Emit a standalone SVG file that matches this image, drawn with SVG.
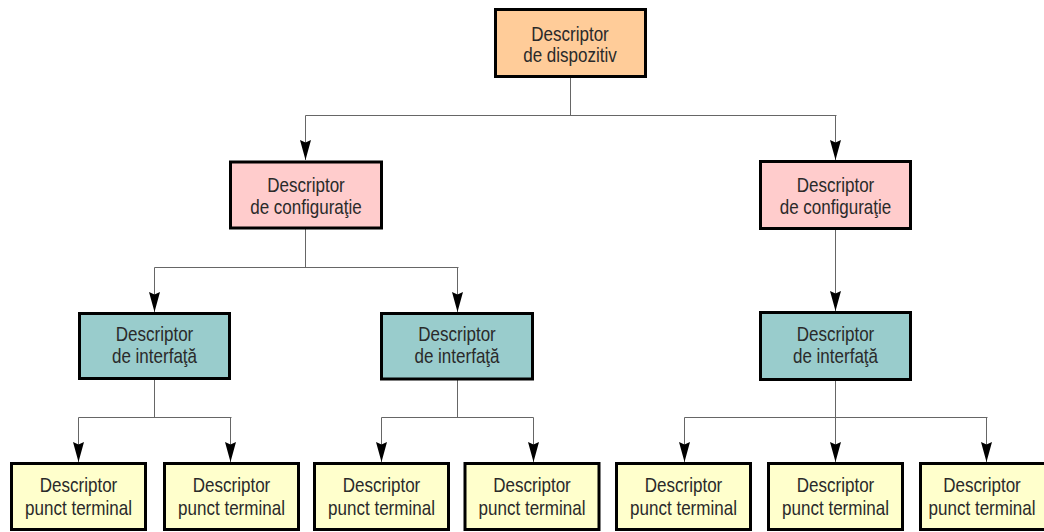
<svg xmlns="http://www.w3.org/2000/svg" width="1044" height="532" viewBox="0 0 1044 532">
<style>
.box{stroke:#000;stroke-width:3}
.dev{fill:#FFCC99}
.cfg{fill:#FFCCCC}
.ifc{fill:#99CCCC}
.ep{fill:#FFFFCC}
text{font-family:"Liberation Sans",Arial,sans-serif;font-size:20.5px;fill:#2a2a2a;text-anchor:middle}
.c{fill:none;stroke:#666;stroke-width:1}
</style>
<defs>
<marker id="ah" markerUnits="userSpaceOnUse" markerWidth="22" markerHeight="12" refX="20" refY="6" orient="auto" viewBox="0 0 22 12">
<path d="M0,0.5 L20,6 L0,11.5 L2.5,6 z" fill="#000"/>
</marker>
</defs>
<rect width="1044" height="532" fill="#fff"/>
<g id="connectors">
<path class="c" d="M570.5,78 V115.5 M305.5,115.5 H836.5"/>
<path class="c" d="M305.5,115.5 V160" marker-end="url(#ah)"/>
<path class="c" d="M835.5,115.5 V160" marker-end="url(#ah)"/>
<path class="c" d="M305.5,229 V267.5 M154.5,267.5 H458.5"/>
<path class="c" d="M154.5,267.5 V312" marker-end="url(#ah)"/>
<path class="c" d="M457.5,267.5 V312" marker-end="url(#ah)"/>
<path class="c" d="M835.5,230 V311" marker-end="url(#ah)"/>
<path class="c" d="M154.5,380 V417.5 M78.5,417.5 H231.5"/>
<path class="c" d="M78.5,417.5 V462" marker-end="url(#ah)"/>
<path class="c" d="M230.5,417.5 V462" marker-end="url(#ah)"/>
<path class="c" d="M457.5,380 V417.5 M381.5,417.5 H533.5"/>
<path class="c" d="M381.5,417.5 V462" marker-end="url(#ah)"/>
<path class="c" d="M533.5,417.5 V462" marker-end="url(#ah)"/>
<path class="c" d="M835.5,381 V417.5 M684.5,417.5 H987.5"/>
<path class="c" d="M684.5,417.5 V462" marker-end="url(#ah)"/>
<path class="c" d="M835.5,417.5 V462" marker-end="url(#ah)"/>
<path class="c" d="M986.5,417.5 V462" marker-end="url(#ah)"/>
</g>
<g id="dev">
<rect class="box dev" x="495.5" y="9.5" width="150" height="67"/>
<text transform="translate(570,40.5) scale(0.83,1)">Descriptor</text>
<text transform="translate(570,62) scale(0.83,1)">de dispozitiv</text>
</g>
<g id="cfg1">
<rect class="box cfg" x="230.5" y="162" width="151" height="66"/>
<text transform="translate(306,192) scale(0.83,1)">Descriptor</text>
<text transform="translate(306,213.5) scale(0.83,1)">de configuraţie</text>
</g>
<g id="cfg2">
<rect class="box cfg" x="760.5" y="161.5" width="150" height="67"/>
<text transform="translate(835.5,192) scale(0.83,1)">Descriptor</text>
<text transform="translate(835.5,213.5) scale(0.83,1)">de configuraţie</text>
</g>
<g id="ifc1">
<rect class="box ifc" x="79.5" y="313.5" width="150" height="65"/>
<text transform="translate(154.5,341) scale(0.83,1)">Descriptor</text>
<text transform="translate(154.5,363) scale(0.83,1)">de interfaţă</text>
</g>
<g id="ifc2">
<rect class="box ifc" x="381.5" y="313.5" width="151" height="65.5"/>
<text transform="translate(457,341) scale(0.83,1)">Descriptor</text>
<text transform="translate(457,363) scale(0.83,1)">de interfaţă</text>
</g>
<g id="ifc3">
<rect class="box ifc" x="760.5" y="312.5" width="150" height="67"/>
<text transform="translate(835.5,341) scale(0.83,1)">Descriptor</text>
<text transform="translate(835.5,363) scale(0.83,1)">de interfaţă</text>
</g>
<g id="ep1">
<rect class="box ep" x="11.5" y="463.5" width="134" height="66"/>
<text transform="translate(78.5,492) scale(0.83,1)">Descriptor</text>
<text transform="translate(78.5,514.5) scale(0.83,1)">punct terminal</text>
</g>
<g id="ep2">
<rect class="box ep" x="164.5" y="463.5" width="134" height="66"/>
<text transform="translate(231.5,492) scale(0.83,1)">Descriptor</text>
<text transform="translate(231.5,514.5) scale(0.83,1)">punct terminal</text>
</g>
<g id="ep3">
<rect class="box ep" x="314.5" y="463.5" width="134" height="66"/>
<text transform="translate(381.5,492) scale(0.83,1)">Descriptor</text>
<text transform="translate(381.5,514.5) scale(0.83,1)">punct terminal</text>
</g>
<g id="ep4">
<rect class="box ep" x="465" y="463.5" width="134" height="66"/>
<text transform="translate(532,492) scale(0.83,1)">Descriptor</text>
<text transform="translate(532,514.5) scale(0.83,1)">punct terminal</text>
</g>
<g id="ep5">
<rect class="box ep" x="616.5" y="463.5" width="134" height="66"/>
<text transform="translate(683.5,492) scale(0.83,1)">Descriptor</text>
<text transform="translate(683.5,514.5) scale(0.83,1)">punct terminal</text>
</g>
<g id="ep6">
<rect class="box ep" x="768.5" y="463.5" width="134" height="66"/>
<text transform="translate(835.5,492) scale(0.83,1)">Descriptor</text>
<text transform="translate(835.5,514.5) scale(0.83,1)">punct terminal</text>
</g>
<g id="ep7">
<rect class="box ep" x="920.5" y="463.5" width="134" height="66"/>
<text transform="translate(982,492) scale(0.83,1)">Descriptor</text>
<text transform="translate(982,514.5) scale(0.83,1)">punct terminal</text>
</g>
</svg>
